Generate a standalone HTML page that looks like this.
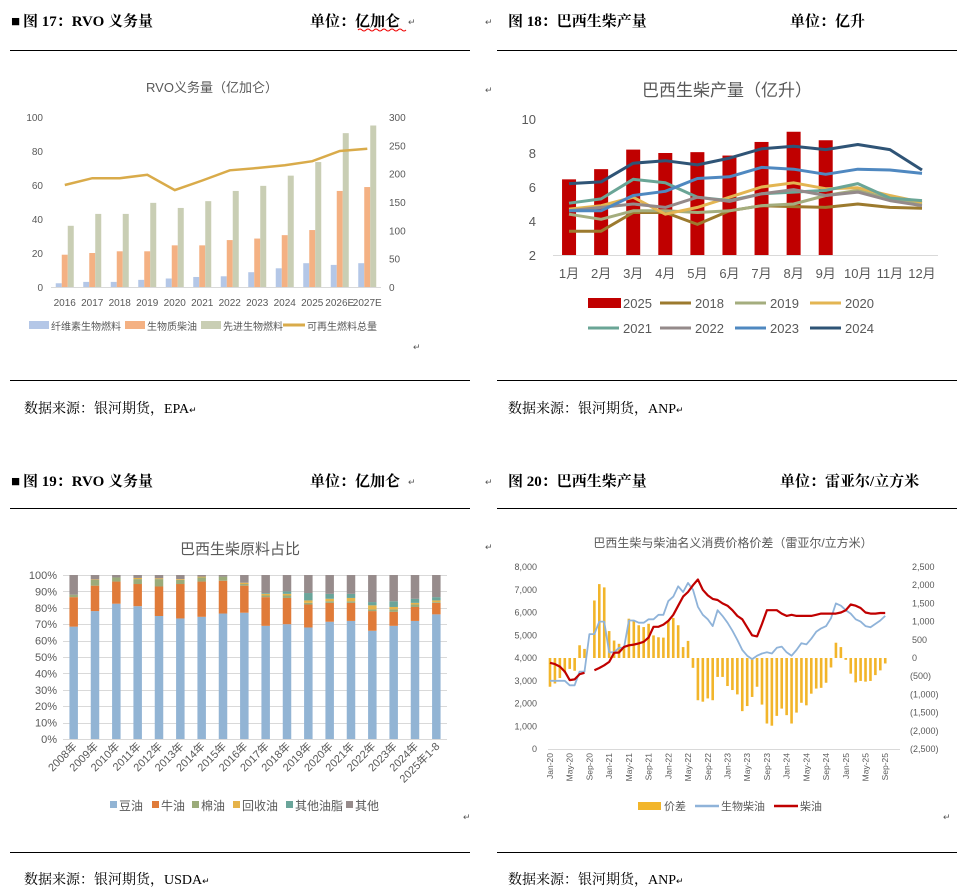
<!DOCTYPE html>
<html><head><meta charset="utf-8">
<style>
html,body{margin:0;padding:0;background:#fff;}
svg{display:block;}
.hd{font-family:"Liberation Serif","Noto Serif CJK SC",serif;font-weight:bold;font-size:15px;fill:#000;}
.src{font-family:"Liberation Serif","Noto Serif CJK SC",serif;font-size:14px;fill:#000;}
.ax{font-family:"Liberation Sans","Noto Sans CJK SC",sans-serif;fill:#595959;}
.mk{font-family:"Liberation Sans",sans-serif;font-size:9px;fill:#555;}
</style></head>
<body>
<svg id="page" width="959" height="894" viewBox="0 0 959 894" xmlns="http://www.w3.org/2000/svg">
  <g>
    <text class="hd" x="11" y="26" font-size="11">■</text>
    <text class="hd" x="23" y="26">图 17：RVO 义务量</text>
    <text class="hd" x="310" y="26">单位：亿加仑</text>
    <path d="M358 30 q2 -2 4 0 t4 0 t4 0 t4 0 t4 0 t4 0 t4 0 t4 0 t4 0 t4 0 t4 0 t4 0" stroke="#e00" stroke-width="1" fill="none"/>
    <text class="mk" x="408" y="25">↵</text>
  </g>
  <g>
    <text class="mk" x="485" y="25">↵</text>
    <text class="hd" x="508" y="26">图 18：巴西生柴产量</text>
    <text class="hd" x="790" y="26">单位：亿升</text>
  </g>
  <g>
    <text class="hd" x="11" y="486" font-size="11">■</text>
    <text class="hd" x="23" y="486">图 19：RVO 义务量</text>
    <text class="hd" x="310" y="486">单位：亿加仑</text>
    <text class="mk" x="408" y="485">↵</text>
  </g>
  <g>
    <text class="mk" x="485" y="485">↵</text>
    <text class="hd" x="508" y="486">图 20：巴西生柴产量</text>
    <text class="hd" x="780" y="486">单位：雷亚尔/立方米</text>
  </g>
  <g stroke="#000" stroke-width="1">
    <line x1="10" y1="50.5" x2="470" y2="50.5"/><line x1="497" y1="50.5" x2="957" y2="50.5"/>
    <line x1="10" y1="380.5" x2="470" y2="380.5"/><line x1="497" y1="380.5" x2="957" y2="380.5"/>
    <line x1="10" y1="508.5" x2="470" y2="508.5"/><line x1="497" y1="508.5" x2="957" y2="508.5"/>
    <line x1="10" y1="852.5" x2="470" y2="852.5"/><line x1="497" y1="852.5" x2="957" y2="852.5"/>
  </g>
  <text class="src" x="24" y="413">数据来源：银河期货，EPA<tspan font-size="9">↵</tspan></text>
  <text class="src" x="508" y="413">数据来源：银河期货，ANP<tspan font-size="9">↵</tspan></text>
  <text class="src" x="24" y="884">数据来源：银河期货，USDA<tspan font-size="9">↵</tspan></text>
  <text class="src" x="508" y="884">数据来源：银河期货，ANP<tspan font-size="9">↵</tspan></text>
  <text class="mk" x="413" y="350">↵</text>
  <text class="mk" x="485" y="93">↵</text>
  <text class="mk" x="485" y="550">↵</text>
  <text class="mk" x="463" y="820">↵</text>
  <text class="mk" x="943" y="820">↵</text>
</svg>
<script>
// ===== Chart 1 data =====
const c1Years = ['2016','2017','2018','2019','2020','2021','2022','2023','2024','2025','2026E','2027E'];
const c1Cellulosic = [2.2,3,3,4.2,5,5.9,6.3,8.7,11,14,13,14];
const c1Biodiesel = [19,20,21,21,24.5,24.5,27.6,28.5,30.5,33.5,56.5,58.8];
const c1Advanced = [36,43,43,49.5,46.5,50.5,56.5,59.5,65.5,73.5,90.5,95];
const c1Total = [180,192,192,198,171,188,206,210,215,222,240,244];
const c1LeftTicks = [0,20,40,60,80,100];
const c1RightTicks = [0,50,100,150,200,250,300];
// ===== Chart 2 data =====
const c2Months = ['1月','2月','3月','4月','5月','6月','7月','8月','9月','10月','11月','12月'];
const c2Bars2025 = [6.45,7.05,8.2,8,8.05,7.85,8.65,9.25,8.75];
const c2Years = ['2018','2019','2020','2021','2022','2023','2024'];
const c2Y2018 = [3.4,3.4,4.5,4.5,3.8,4.6,4.9,4.85,4.8,5,4.8,4.75];
const c2Y2019 = [4.4,4.1,4.6,4.6,4.5,4.6,4.9,5,5.5,5.8,5.3,5];
const c2Y2020 = [4.7,4.9,5.4,4.4,4.8,5.4,6,6.25,5.9,5.95,5.5,5.1];
const c2Y2021 = [5.05,5.3,6.45,6.25,5.4,5.2,5.6,5.7,5.8,6.2,5.35,5.2];
const c2Y2022 = [4.6,4.8,5,4.8,5.4,5.15,5.6,5.85,5.5,5.7,5.2,4.9];
const c2Y2023 = [4.6,4.6,5.5,5.75,6.5,6.6,7.15,7.05,6.75,7.05,7,6.8];
const c2Y2024 = [6.2,6.3,7.4,7.55,7.3,7.7,8.25,8.4,8.2,8.5,8.2,7];
const c2Ticks = [2,4,6,8,10];
// ===== Chart 3 data =====
const c3Cats = ['2008年','2009年','2010年','2011年','2012年','2013年','2014年','2015年','2016年','2017年','2018年','2019年','2020年','2021年','2022年','2023年','2024年','2025年1-8'];
const c3Soy = [68.5,78,82.5,81,75,73.5,74.5,76.5,77,69,70,68,71.5,72,66,69,72,76];
const c3Tallow = [18,15.5,13.5,13.5,18,21,21.5,20,16.5,17.5,16,14,11.5,11,12,8.5,8.5,7];
const c3Cotton = [1.5,3.5,2.5,3,4.5,2.5,2.5,2.5,1,1,1.5,1,1,1,1,1.5,1.5,0.5];
const c3Recycled = [0,0.3,0,0.7,0.5,0.5,0.5,0,0.8,1,1,1.5,1.5,2,2.5,1.5,1,1];
const c3OtherFat = [0,0,0,0,0,0,0,0,0,0.5,1.5,4.5,3,2.5,2,3.5,2.5,2];
const c3Other = [12,2.7,1.5,1.8,2,2.5,1,1,4.7,11,10,11,11.5,11.5,16.5,16,14.5,13.5];
const c3Ticks = [0,10,20,30,40,50,60,70,80,90,100];
// ===== Chart 4 data =====
const c4Labels = ['Jan-20','May-20','Sep-20','Jan-21','May-21','Sep-21','Jan-22','May-22','Sep-22','Jan-23','May-23','Sep-23','Jan-24','May-24','Sep-24','Jan-25','May-25','Sep-25'];
const c4Spread = [-790,-700,-550,-400,-300,-350,350,250,null,1580,2030,1940,740,480,390,300,1080,1030,900,850,940,620,570,560,1030,1100,900,300,470,-270,-1160,-1200,-1110,-1160,-520,-520,-770,-880,-1000,-1460,-1320,-1070,-790,-1280,-1800,-1860,-1590,-1390,-1570,-1800,-1500,-1230,-1300,-980,-840,-820,-680,-260,420,300,-50,-430,-670,-630,-650,-630,-470,-340,-150];
const c4Biodiesel = [3000,3000,3000,3000,2800,2800,3400,3400,5050,5050,5600,5600,4250,4250,4450,4450,5650,5650,5550,5550,5700,5700,5900,5900,6500,6700,7150,6900,7300,7000,6250,5900,5700,5400,6100,5850,5550,5200,4800,4350,4100,3950,4100,4200,4250,4200,4450,4500,4250,4100,4350,4650,4600,4850,5150,5300,5400,5750,6400,6300,6100,5950,5700,5600,5400,5350,5500,5650,5850];
const c4Diesel = [3790,3730,3620,3400,3030,3060,3290,3350,null,3460,3560,3680,3830,4230,4240,4490,4560,4590,4640,4710,4900,5370,5370,5470,5630,5900,6300,6700,6900,7200,7450,7000,6750,6600,6550,6400,6300,6100,5850,5700,5350,5000,4950,5500,6100,6100,6100,5950,5850,5900,5850,5850,5850,5850,5900,5950,5950,5950,5950,6000,6100,6350,6300,6200,6000,5950,5950,5980,5980];
const c4LeftTicks = [0,1000,2000,3000,4000,5000,6000,7000,8000];
const c4RightTicks = [2500,2000,1500,1000,500,0,-500,-1000,-1500,-2000,-2500];

const NS='http://www.w3.org/2000/svg';
const svg=document.getElementById('page');
function mk(tag,attrs,parent){const e=document.createElementNS(NS,tag);for(const k in attrs)e.setAttribute(k,attrs[k]);(parent||svg).appendChild(e);return e;}
function tx(x,y,s,size,anchor,fill,parent){const e=mk('text',{x:x,y:y,'font-size':size,'text-anchor':anchor||'start',class:'ax'},parent);if(fill)e.setAttribute('fill',fill);e.textContent=s;return e;}
function grp(name){const g=mk('g',{});return g;}
function linePath(vals,xf,yf){let d='',pen=false;vals.forEach((v,i)=>{if(v===null){pen=false;return;}d+=(pen?'L':'M')+xf(i).toFixed(1)+' '+yf(v).toFixed(1)+' ';pen=true;});return d;}
function fmt(n){return n.toString().replace(/\B(?=(\d{3})+(?!\d))/g,',');}

// ===== Chart 1 =====
(function(){
  const g=grp('chart-rvo-obligation');
  const L=51,R=381,B=287,step=(R-L)/c1Years.length;
  const x=i=>L+step*(i+0.5), yL=v=>B-v*1.7, yR=v=>B-v*170/300;
  const t=tx(212,92,'RVO义务量（亿加仑）',13,'middle','#595959',g);
  
  
  c1LeftTicks.forEach(v=>{const e=tx(43,yL(v)+4,String(v),10,'end',null,g);});
  c1RightTicks.forEach(v=>{const e=tx(389,yR(v)+4,String(v),10,'start',null,g);});
  const ax=mk('line',{x1:L,y1:B+0.5,x2:R,y2:B+0.5,stroke:'#d9d9d9'},g);
  
  
  const sets=[[c1Cellulosic,'#b4c7e7',-9,'bar-cellulosic'],[c1Biodiesel,'#f4b183',-3,'bar-biodiesel'],[c1Advanced,'#c9ceb4',3,'bar-advanced']];
  c1Years.forEach((c,i)=>{
    sets.forEach(s=>{const r=mk('rect',{x:x(i)+s[2],y:yL(s[0][i]),width:6,height:B-yL(s[0][i]),fill:s[1]},g);
      
      });
    const e=tx(x(i),306,c,10,'middle',null,g);
    
    
  });
  const p=mk('path',{d:linePath(c1Total,x,yR),stroke:'#d9ab4a','stroke-width':2.5,fill:'none'},g);
  
  
  const leg=[['rect','#b4c7e7',29,'纤维素生物燃料'],['rect','#f4b183',125,'生物质柴油'],['rect','#c9ceb4',201,'先进生物燃料'],['line','#d9ab4a',283,'可再生燃料总量']];
  leg.forEach(l=>{const lg=mk('g',{},g);
    
    
    if(l[0]==='rect')mk('rect',{x:l[2],y:321,width:20,height:8,fill:l[1]},lg);else mk('line',{x1:l[2],y1:325,x2:l[2]+22,y2:325,stroke:l[1],'stroke-width':3},lg);
    tx(l[2]+(l[0]==='rect'?22:24),330,l[3],10,'start','#7f7f7f',lg);});
})();

// ===== Chart 2 =====
(function(){
  const g=grp('chart-brazil-biodiesel-output');
  const L=553,R=938,B=255,step=(R-L)/12;
  const x=i=>L+step*(i+0.5), y=v=>B-(v-2)*17;
  const t=tx(727,96,'巴西生柴产量（亿升）',17,'middle','#595959',g);
  
  
  c2Ticks.forEach(v=>{const e=tx(536,y(v)+5,String(v),13,'end',null,g);});
  const ax=mk('line',{x1:L,y1:B+0.5,x2:R,y2:B+0.5,stroke:'#d9d9d9'},g);
  
  
  c2Bars2025.forEach((v,i)=>{const r=mk('rect',{x:x(i)-7,y:y(v),width:14,height:B-y(v),fill:'#c00000'},g);
    
    });
  const series=[c2Y2018,c2Y2019,c2Y2020,c2Y2021,c2Y2022,c2Y2023,c2Y2024];
  const cols=['#9c7a2e','#a4ad7e','#e3b552','#6aa596','#948a8a','#4f88c0','#2f5476'];
  series.forEach((s,k)=>{const p=mk('path',{d:linePath(s,x,y),stroke:cols[k],'stroke-width':3,fill:'none','stroke-linejoin':'round'},g);
    
    });
  c2Months.forEach((m,i)=>{const e=tx(x(i),278,m,13,'middle',null,g);});
  const lx=[588,660,735,810];
  const legItems=[['2025','#c00000',true]].concat(c2Years.map((yy,k)=>[yy,cols[k],false]));
  legItems.forEach((l,k)=>{const lg=mk('g',{},g);
    
    
    const xx=lx[k%4],yy=k<4?303:328;
    if(l[2])mk('rect',{x:xx,y:yy-5,width:33,height:10,fill:l[1]},lg);else mk('line',{x1:xx,y1:yy,x2:xx+31,y2:yy,stroke:l[1],'stroke-width':3},lg);
    tx(xx+35,yy+5,l[0],13,'start',null,lg);});
})();

// ===== Chart 3 =====
(function(){
  const g=grp('chart-feedstock-share');
  const L=63,R=447,B=739,step=(R-L)/c3Cats.length;
  const x=i=>L+step*(i+0.5), y=v=>B-v*1.64;
  const t=tx(240,554,'巴西生柴原料占比',15,'middle','#595959',g);
  
  
  c3Ticks.forEach(v=>{const gl=mk('line',{x1:L,y1:Math.round(y(v))+0.5,x2:R,y2:Math.round(y(v))+0.5,stroke:'#d9d9d9'},g);
    
    
    const e=tx(57,y(v)+4,v+'%',11,'end',null,g);
    
    });
  const series=[[c3Soy,'#92b4d4','soybean-oil'],[c3Tallow,'#e07b39','tallow'],[c3Cotton,'#9bab7a','cottonseed-oil'],[c3Recycled,'#e6b34a','recycled-oil'],[c3OtherFat,'#6aa59a','other-fats'],[c3Other,'#978c8c','other']];
  c3Cats.forEach((c,i)=>{
    let cum=0;
    series.forEach(s=>{const v=s[0][i];if(v>0){const r=mk('rect',{x:x(i)-4.25,y:y(cum+v),width:8.5,height:y(cum)-y(cum+v),fill:s[1]},g);
      
      }cum+=v;});
    const e=tx(0,0,c,11,'end',null,g);
    e.setAttribute('transform','translate('+(x(i)+4)+',747) rotate(-45)');
    
    
  });
  const lx=[110,152,192,233,286,346],names=['豆油','牛油','棉油','回收油','其他油脂','其他'];
  series.forEach((s,k)=>{const lg=mk('g',{},g);
    
    
    mk('rect',{x:lx[k],y:801,width:7,height:7,fill:s[1]},lg);
    tx(lx[k]+9,810,names[k],12,'start',null,lg);});
})();

// ===== Chart 4 =====
(function(){
  const g=grp('chart-price-spread');
  const L=548,B=749,step=4.93;
  const x=i=>L+2+i*step, yL=v=>B-v*182/8000, yR=v=>658-v*182/5000;
  const t=tx(733,547,'巴西生柴与柴油名义消费价格价差（雷亚尔/立方米）',12,'middle','#8c8c8c',g);
  
  
  c4LeftTicks.forEach(v=>{const e=tx(537,yL(v)+3,fmt(v),9,'end',null,g);});
  c4RightTicks.forEach(v=>{const s=v<0?'('+fmt(-v)+')':fmt(v);const e=tx(v<0?910:912,yR(v)+3,s,9,'start',v<0?'#ff0000':null,g);});
  const ax=mk('line',{x1:L,y1:B+0.5,x2:900,y2:B+0.5,stroke:'#d9d9d9'},g);
  
  
  c4Spread.forEach((v,i)=>{if(v===null)return;const y0=yR(0),y1=yR(v);const r=mk('rect',{x:x(i)-1.3,y:Math.min(y0,y1),width:2.6,height:Math.abs(y1-y0),fill:'#f2b52a'},g);
    
    });
  const p1=mk('path',{d:linePath(c4Biodiesel,x,yL),stroke:'#8fb3d9','stroke-width':1.8,fill:'none','stroke-linejoin':'round'},g);
  
  
  const p2=mk('path',{d:linePath(c4Diesel,x,yL),stroke:'#c00000','stroke-width':2.2,fill:'none','stroke-linejoin':'round'},g);
  
  
  c4Labels.forEach((l,k)=>{const e=tx(0,0,l,8.5,'end',null,g);
    e.setAttribute('transform','translate('+(x(k*4)+3)+',753) rotate(-90)');
    
    });
  const leg=[['rect','#f2b52a',638,'价差'],['line','#8fb3d9',695,'生物柴油'],['line','#c00000',774,'柴油']];
  leg.forEach(l=>{const lg=mk('g',{},g);
    
    
    if(l[0]==='rect')mk('rect',{x:l[2],y:802,width:23,height:8,fill:l[1]},lg);else mk('line',{x1:l[2],y1:806,x2:l[2]+24,y2:806,stroke:l[1],'stroke-width':2.5},lg);
    tx(l[2]+26,810,l[3],11,'start',null,lg);});
})();
</script>
</body></html>
